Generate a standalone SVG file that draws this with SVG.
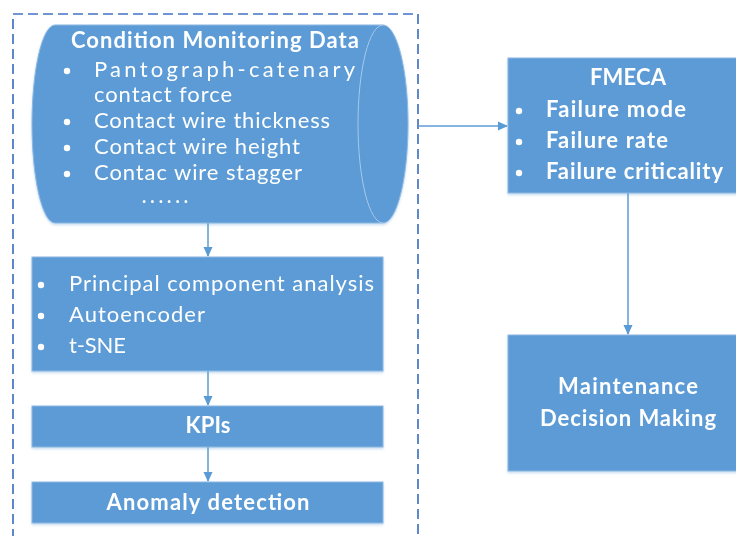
<svg xmlns="http://www.w3.org/2000/svg" width="736" height="536" viewBox="0 0 736 536">
<defs>
<style>
.box{fill:#5B9BD5;stroke:#8fb8e2;stroke-width:1}
.t{font-family:Lato,"Open Sans","Liberation Sans",sans-serif;fill:#ffffff;font-size:22px}
.b{font-weight:bold}
.c{text-anchor:middle}
.bul{fill:#ffffff}
.con{stroke:#5B9BD5;stroke-width:1.5;fill:none}
.frame{fill:none;stroke:#4472C4;stroke-width:1.7;stroke-dasharray:10 5}
</style>
<marker id="arr" markerWidth="10" markerHeight="10" refX="9" refY="5" orient="auto" markerUnits="userSpaceOnUse">
<path d="M0,0.5 L10,5 L0,9.5 Z" fill="#5B9BD5"/>
</marker>
<filter id="sh" x="-5%" y="-5%" width="110%" height="115%">
<feDropShadow dx="0" dy="1.5" stdDeviation="1.2" flood-color="#5B9BD5" flood-opacity="0.35"/>
</filter>
</defs>
<rect id="frame" class="frame" x="13" y="14" width="405" height="540"/>
<g id="connectors">
<line class="con" x1="208" y1="223" x2="208" y2="256" marker-end="url(#arr)"/>
<line class="con" x1="208" y1="371" x2="208" y2="405" marker-end="url(#arr)"/>
<line class="con" x1="208" y1="447" x2="208" y2="481" marker-end="url(#arr)"/>
<line class="con" x1="418" y1="126" x2="507" y2="126" marker-end="url(#arr)"/>
<line class="con" x1="628" y1="193" x2="628" y2="334" marker-end="url(#arr)"/>
</g>
<g id="cmd" filter="url(#sh)">
<path class="box" d="M55,25 H383 A25,99 0 0 1 383,223 H55 A23,99 0 0 1 55,25 Z"/>
<path d="M383,25 A25,99 0 0 0 383,223" fill="none" stroke="#a9c8ea" stroke-width="1"/>
<text class="t b c" x="215" y="48" textLength="288">Condition Monitoring Data</text>
<circle class="bul" cx="67" cy="71" r="3.2"/>
<text class="t" x="94" y="77" textLength="261">Pantograph-catenary</text>
<text class="t" x="94" y="102" textLength="138">contact force</text>
<circle class="bul" cx="67" cy="122" r="3.2"/>
<text class="t" x="94" y="128" textLength="236">Contact wire thickness</text>
<circle class="bul" cx="67" cy="148" r="3.2"/>
<text class="t" x="94" y="154" textLength="206">Contact wire height</text>
<circle class="bul" cx="67" cy="174" r="3.2"/>
<text class="t" x="94" y="180" textLength="208">Contac wire stagger</text>
<text class="t" x="142" y="203" style="font-size:18px;font-weight:bold" textLength="46">......</text>
</g>
<g id="dimred" filter="url(#sh)">
<rect class="box" x="32" y="257" width="351" height="114"/>
<circle class="bul" cx="41" cy="285" r="3.2"/>
<text class="t" x="69" y="291" textLength="305">Principal component analysis</text>
<circle class="bul" cx="41" cy="316" r="3.2"/>
<text class="t" x="69" y="322" textLength="136">Autoencoder</text>
<circle class="bul" cx="41" cy="347" r="3.2"/>
<text class="t" x="69" y="353" textLength="57">t-SNE</text>
</g>
<g id="kpis" filter="url(#sh)">
<rect class="box" x="32" y="406" width="351" height="41"/>
<text class="t b c" x="208" y="433" textLength="45">KPIs</text>
</g>
<g id="anomaly" filter="url(#sh)">
<rect class="box" x="32" y="482" width="351" height="41"/>
<text class="t b c" x="208" y="510" textLength="203">Anomaly detection</text>
</g>
<g id="fmeca" filter="url(#sh)">
<rect class="box" x="508" y="58" width="240" height="135"/>
<text class="t b c" x="628" y="85" textLength="76">FMECA</text>
<circle class="bul" cx="519" cy="111" r="3.2"/>
<text class="t b" x="546" y="117" textLength="140">Failure mode</text>
<circle class="bul" cx="519" cy="142" r="3.2"/>
<text class="t b" x="546" y="148" textLength="122">Failure rate</text>
<circle class="bul" cx="519" cy="173" r="3.2"/>
<text class="t b" x="546" y="179" textLength="177">Failure criticality</text>
</g>
<g id="maint" filter="url(#sh)">
<rect class="box" x="508" y="335" width="240" height="136"/>
<text class="t b c" x="628" y="394" textLength="140">Maintenance</text>
<text class="t b c" x="628" y="426" textLength="176">Decision Making</text>
</g>
</svg>
